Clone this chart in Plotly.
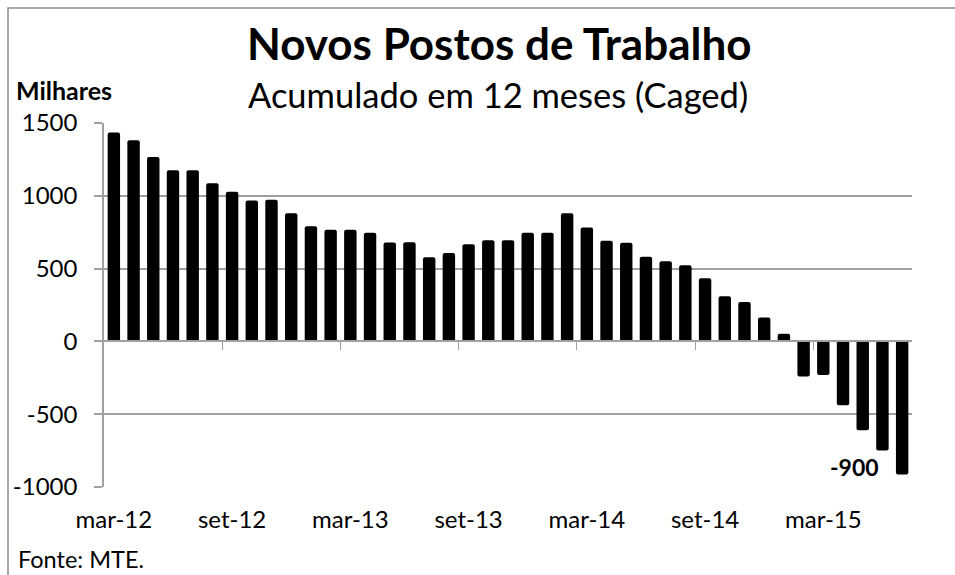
import plotly.graph_objects as go

# ---- data ----
months = [
    "mar-12", "abr-12", "mai-12", "jun-12", "jul-12", "ago-12",
    "set-12", "out-12", "nov-12", "dez-12", "jan-13", "fev-13",
    "mar-13", "abr-13", "mai-13", "jun-13", "jul-13", "ago-13",
    "set-13", "out-13", "nov-13", "dez-13", "jan-14", "fev-14",
    "mar-14", "abr-14", "mai-14", "jun-14", "jul-14", "ago-14",
    "set-14", "out-14", "nov-14", "dez-14", "jan-15", "fev-15",
    "mar-15", "abr-15", "mai-15", "jun-15", "jul-15",
]
postos = [
    1434, 1381, 1266, 1175, 1175, 1087,
    1028, 968, 973, 881, 791, 766,
    766, 746, 679, 681, 578, 608,
    668, 694, 695, 746, 746, 881,
    782, 691, 677, 581, 551, 523,
    434, 310, 271, 165, 53, -241,
    -231, -438, -610, -750, -915,
]
tick_labels = ["mar-12", "set-12", "mar-13", "set-13", "mar-14", "set-14", "mar-15"]
y_tick_vals = [-1000, -500, 0, 500, 1000, 1500]
y_tick_text = ["-1000", "-500", "0", "500", "1000", "1500"]
last_label = "-900"

title = "Novos Postos de Trabalho"
subtitle = "Acumulado em 12 meses (Caged)"
unit = "Milhares"
source = "Fonte: MTE."

# ---- layout geometry ----
W, H = 955, 575
L, R, T, B = 104, 43, 123, 88
PW, PH = W - L - R, H - T - B
FONT = "Lato"
GRAY = "#a0a0a0"


def pxx(x):
    return (x - L) / PW


def pxy(y):
    return (H - B - y) / PH


fig = go.Figure()
fig.add_trace(go.Bar(
    x=months, y=postos,
    marker=dict(color="black", line=dict(width=0), cornerradius=2),
    hoverinfo="x+y", showlegend=False,
))
# invisible helper to register categories on the zero-line axis
fig.add_trace(go.Scatter(
    x=months, y=postos, xaxis="x2", mode="markers",
    marker=dict(opacity=0), hoverinfo="skip", showlegend=False,
))

n = len(months)
boundary_ticks = [i - 0.5 for i in range(6, n, 6)]

fig.update_layout(
    width=W, height=H,
    margin=dict(l=L, r=R, t=T, b=B, pad=0),
    paper_bgcolor="white", plot_bgcolor="white",
    bargap=0.37,
    font=dict(family=FONT, color="black"),
    xaxis=dict(
        type="category", categoryorder="array", categoryarray=months,
        range=[-0.5, n - 0.5], tickmode="array", tickvals=tick_labels,
        ticktext=tick_labels, ticks="", showline=False, showgrid=False,
        zeroline=False, tickfont=dict(size=24, family=FONT),
        ticklabelstandoff=16,
    ),
    xaxis2=dict(
        type="category", overlaying="x", anchor="free", position=0.4,
        categoryorder="array", categoryarray=months,
        range=[-0.5, n - 0.5], tickmode="array", tickvals=boundary_ticks,
        ticks="outside", ticklen=8, tickwidth=1, tickcolor=GRAY,
        showticklabels=False, showline=True, linecolor=GRAY, linewidth=1.5,
        showgrid=False, zeroline=False, side="bottom",
    ),
    yaxis=dict(
        range=[-1000, 1500], tickmode="array", tickvals=y_tick_vals,
        ticktext=y_tick_text,
        showgrid=True, gridcolor=GRAY, gridwidth=1.5,
        showline=True, linecolor=GRAY, linewidth=1.5,
        ticks="outside", ticklen=8, tickwidth=1.5, tickcolor=GRAY,
        zeroline=False, tickfont=dict(size=24, family=FONT),
        ticklabelstandoff=12,
    ),
)

annotations = [
    dict(text="<b>" + title + "</b>", x=pxx(499), y=pxy(43),
         font=dict(size=44, family=FONT)),
    dict(text=subtitle, x=pxx(498), y=pxy(94),
         font=dict(size=34.5, family=FONT)),
    dict(text="<b>" + unit + "</b>", x=pxx(14), y=pxy(90), xanchor="left",
         font=dict(size=25, family=FONT)),
    dict(text=source, x=pxx(16), y=pxy(559), xanchor="left",
         font=dict(size=23.5, family=FONT)),
]
for a in annotations:
    a.update(xref="paper", yref="paper", showarrow=False)
    a.setdefault("xanchor", "center")
    a.setdefault("yanchor", "middle")

annotations.append(dict(
    text="<b>" + last_label + "</b>", x=months[-1], y=postos[-1],
    xref="x", yref="y", showarrow=False, xanchor="right", yanchor="middle",
    xshift=-21, yshift=8, font=dict(size=23, family=FONT),
))
fig.update_layout(annotations=annotations)

# chart frame (only top and left edges visible in the crop)
fig.add_shape(type="rect", xref="paper", yref="paper",
              x0=pxx(8), x1=pxx(W + 10), y0=pxy(H + 10), y1=pxy(8),
              line=dict(color="#8c8c8c", width=1.5), fillcolor="rgba(0,0,0,0)",
              layer="below")

fig.write_html("out.html",
               config={"displayModeBar": False},
               post_script="document.body.style.margin='0';"
                           "document.body.style.overflow='hidden';")
